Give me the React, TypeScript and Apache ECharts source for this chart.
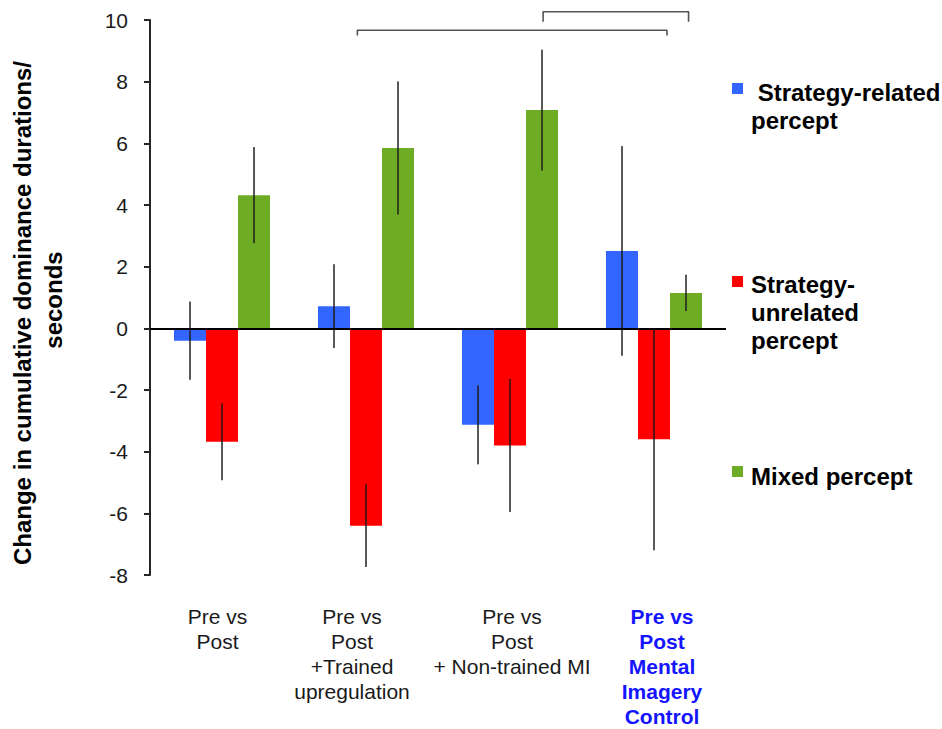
import React, { useEffect, useRef } from "react";
import * as echarts from "echarts";

const FONT = '"Liberation Sans", Arial, Helvetica, sans-serif';

// Condition groups along the x axis
const categories = [
  "Pre vs\nPost",
  "Pre vs\nPost\n+Trained\nupregulation",
  "Pre vs\nPost\n+ Non-trained MI",
  "Pre vs\nPost\nMental\nImagery\nControl",
];

// Series names
const seriesNames = [
  "Strategy-related percept",
  "Strategy-unrelated percept",
  "Mixed percept",
];

// Legend labels as they are broken into lines
const legendLabels = [" Strategy-related\npercept", "Strategy-\nunrelated\npercept", "Mixed percept"];

// Mean change in cumulative dominance duration (s) and error half-widths
const strategyRelated = [-0.4, 0.72, -3.13, 2.51];
const strategyRelatedErr = [1.27, 1.36, 1.28, 3.4];
const strategyUnrelated = [-3.68, -6.4, -3.8, -3.6];
const strategyUnrelatedErr = [1.25, 1.34, 2.16, 3.6];
const mixed = [4.32, 5.85, 7.08, 1.15];
const mixedErr = [1.56, 2.16, 1.96, 0.59];

const colors = ["#3366ff", "#ff0000", "#6fac26"];

// Y axis ticks
const yMin = -8;
const yMax = 10;
const yStep = 2;

// Significance brackets: [fromCategory, level, fromOffset(band), toCategory, toOffset(band), dropLevel]
const brackets = [
  [1, 9.67, -0.06, 3, 0.09, 9.5],
  [2, 10.27, 0.23, 3, 0.24, 9.94],
];

const BAR_CATEGORY_GAP = 0.333;

function errorSeries(name: string, means: number[], errs: number[], slot: number) {
  return {
    type: "custom",
    name,
    silent: true,
    clip: false,
    z: 5,
    encode: { x: 0, y: 1 },
    data: means.map((m, i) => [i, m, errs[i]]),
    renderItem: (_params: any, api: any) => {
      const i = api.value(0);
      const m = api.value(1);
      const e = api.value(2);
      const band = api.size([1, 0])[0];
      const barW = (band * (1 - BAR_CATEGORY_GAP)) / 3;
      const x = api.coord([i, m])[0] + (slot - 1) * barW;
      const top = api.coord([i, m + e])[1];
      const bot = api.coord([i, m - e])[1];
      return {
        type: "line",
        shape: { x1: x, y1: top, x2: x, y2: bot },
        style: { stroke: "rgba(25,25,25,0.72)", lineWidth: 2 },
      };
    },
  };
}

export default function App() {
  const ref = useRef<HTMLDivElement>(null);

  useEffect(() => {
    if (!ref.current) return;
    const chart = echarts.init(ref.current, undefined, { renderer: "svg" });

    const labelShift = [
      [0, 9, 0, 0],
      [0, 28, 0, 0],
      [0, 0, 0, 4],
      [0, 0, 0, 16],
    ];

    const barBase = {
      type: "bar",
      barGap: "0%",
      barCategoryGap: "33.3%",
      silent: true,
    };

    chart.setOption({
      animation: false,
      backgroundColor: "#ffffff",
      textStyle: { fontFamily: FONT },
      grid: { left: 150, right: 216, top: 20, bottom: 154, containLabel: false },
      xAxis: {
        type: "category",
        data: categories.map((c, i) => ({
          value: c,
          textStyle:
            i === 3
              ? { color: "#1414ff", fontWeight: "bold", padding: labelShift[i] }
              : { padding: labelShift[i] },
        })),
        axisLine: { show: false, onZero: false },
        axisTick: { show: false },
        splitLine: { show: false },
        axisLabel: {
          interval: 0,
          margin: 29,
          fontSize: 21,
          lineHeight: 25,
          color: "#1a1a1a",
          fontFamily: FONT,
        },
      },
      yAxis: {
        type: "value",
        min: yMin,
        max: yMax,
        interval: yStep,
        axisLine: { show: true, onZero: false, lineStyle: { color: "#262626", width: 2 } },
        axisTick: { show: true, inside: false, length: 6, lineStyle: { color: "#262626", width: 2 } },
        splitLine: { show: false },
        axisLabel: { fontSize: 21, color: "#1a1a1a", margin: 22, fontFamily: FONT },
      },
      series: [
        {
          ...barBase,
          name: seriesNames[0],
          data: strategyRelated,
          itemStyle: { color: colors[0] },
          markLine: {
            silent: true,
            symbol: ["none", "none"],
            label: { show: false },
            lineStyle: { color: "#000000", width: 2, type: "solid" },
            data: [{ yAxis: 0 }],
            z: 6,
          },
        },
        { ...barBase, name: seriesNames[1], data: strategyUnrelated, itemStyle: { color: colors[1] } },
        { ...barBase, name: seriesNames[2], data: mixed, itemStyle: { color: colors[2] } },
        errorSeries(seriesNames[0] + " error", strategyRelated, strategyRelatedErr, 0),
        errorSeries(seriesNames[1] + " error", strategyUnrelated, strategyUnrelatedErr, 1),
        errorSeries(seriesNames[2] + " error", mixed, mixedErr, 2),
        {
          type: "custom",
          name: "brackets",
          silent: true,
          clip: false,
          encode: { x: 0, y: 1 },
          data: brackets,
          renderItem: (_params: any, api: any) => {
            const band = api.size([1, 0])[0];
            const level = api.value(1);
            const drop = api.value(5);
            const x1 = api.coord([api.value(0), level])[0] + api.value(2) * band;
            const x2 = api.coord([api.value(3), level])[0] + api.value(4) * band;
            const yTop = api.coord([api.value(0), level])[1];
            const yDrop = api.coord([api.value(0), drop])[1];
            return {
              type: "polyline",
              shape: {
                points: [
                  [x1, yDrop],
                  [x1, yTop],
                  [x2, yTop],
                  [x2, yDrop],
                ],
              },
              style: { stroke: "#555555", lineWidth: 1.6, fill: "none", lineJoin: "round" },
            };
          },
        },
      ],
      graphic: [
        {
          type: "text",
          x: 22.5,
          y: 313,
          rotation: Math.PI / 2,
          style: {
            text: "Change in cumulative dominance durations/",
            font: `bold 24px ${FONT}`,
            fill: "#000000",
            textAlign: "center",
            textVerticalAlign: "middle",
          },
        },
        {
          type: "text",
          x: 53.5,
          y: 300,
          rotation: Math.PI / 2,
          style: {
            text: "seconds",
            font: `bold 24px ${FONT}`,
            fill: "#000000",
            textAlign: "center",
            textVerticalAlign: "middle",
          },
        },
        ...legendLabels.flatMap((label, i) => {
          const boxTop = [83, 276, 466][i];
          const textTop = [78, 270, 462][i];
          return [
            {
              type: "rect",
              shape: { x: 732, y: boxTop, width: 11, height: 11 },
              style: { fill: colors[i] },
            },
            {
              type: "text",
              x: 751,
              y: textTop,
              style: {
                text: label,
                font: `bold 24px ${FONT}`,
                lineHeight: 28,
                fill: "#000000",
                textAlign: "left",
                textVerticalAlign: "top",
              },
            },
          ];
        }),
      ],
    });

    return () => chart.dispose();
  }, []);

  return (
    <div
      ref={ref}
      style={{ position: "absolute", left: 0, top: 0, width: 942, height: 729, background: "#fff" }}
    />
  );
}
